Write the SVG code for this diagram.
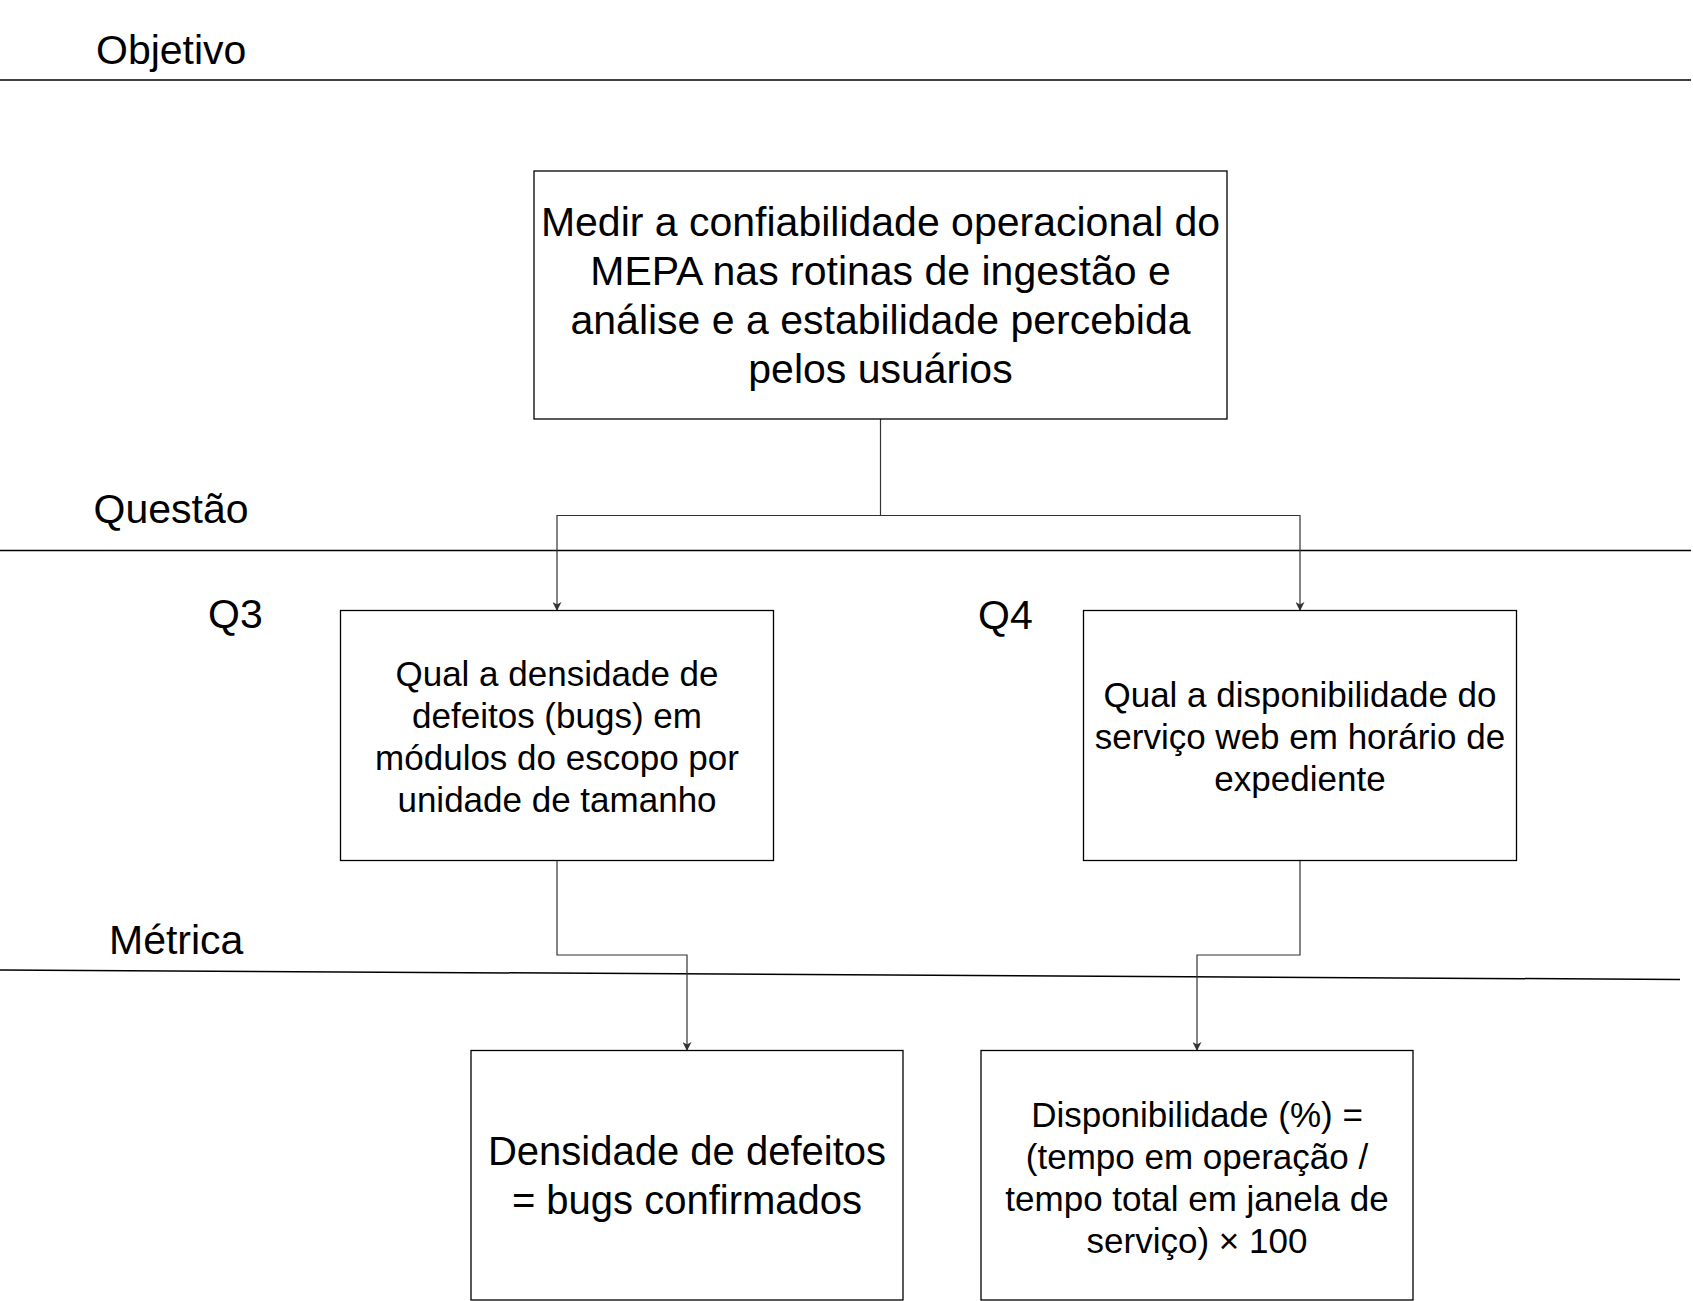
<svg xmlns="http://www.w3.org/2000/svg" width="1693" height="1301" viewBox="0 0 1693 1301">
<style>
  text { font-family: "Liberation Sans", Arial, Helvetica, sans-serif; fill: #000; }
  .lbl { font-size: 41px; }
  .big { font-size: 41px; text-anchor: middle; }
  .big2 { font-size: 40px; text-anchor: middle; }
  .med { font-size: 35px; text-anchor: middle; }
  .box { fill: #fff; stroke: #000; stroke-width: 1.3; }
  .div { stroke: #000; stroke-width: 1.5; fill: none; }
  .conn { stroke: #333; stroke-width: 1.2; fill: none; marker-end: url(#arr); }
</style>
<defs>
  <marker id="arr" viewBox="0 0 10 10" refX="9" refY="5" markerWidth="9" markerHeight="9" markerUnits="userSpaceOnUse" orient="auto">
    <path d="M0,0 L10,5 L0,10 L3,5 z" fill="#333"/>
  </marker>
</defs>
<rect width="1693" height="1301" fill="#fff"/>

<g id="dividers">
  <line class="div" x1="0" y1="80" x2="1691" y2="80"/>
  <line class="div" x1="0" y1="550.5" x2="1691" y2="550.5"/>
  <line class="div" x1="0" y1="970" x2="1680" y2="979.5"/>
</g>

<g id="labels">
  <text class="lbl" x="96" y="64">Objetivo</text>
  <text class="lbl" x="93.5" y="523">Questão</text>
  <text class="lbl" x="208" y="628">Q3</text>
  <text class="lbl" x="978" y="629">Q4</text>
  <text class="lbl" x="109" y="954">Métrica</text>
</g>

<g id="connectors">
  <polyline class="conn" points="880.5,419 880.5,515.5 557,515.5 557,610"/>
  <polyline class="conn" points="880.5,515.5 1300,515.5 1300,610"/>
  <polyline class="conn" points="557,860 557,955 687,955 687,1050"/>
  <polyline class="conn" points="1300,860 1300,955 1197,955 1197,1050"/>
</g>

<g id="goal">
  <rect class="box" x="534" y="171" width="693" height="248"/>
  <text class="big" x="880.5" y="236">Medir a confiabilidade operacional do</text>
  <text class="big" x="880.5" y="285">MEPA nas rotinas de ingestão e</text>
  <text class="big" x="880.5" y="334">análise e a estabilidade percebida</text>
  <text class="big" x="880.5" y="383">pelos usuários</text>
</g>

<g id="q3">
  <rect class="box" x="340.5" y="610.5" width="433" height="250"/>
  <text class="med" x="557" y="686">Qual a densidade de</text>
  <text class="med" x="557" y="728">defeitos (bugs) em</text>
  <text class="med" x="557" y="770">módulos do escopo por</text>
  <text class="med" x="557" y="811.5">unidade de tamanho</text>
</g>

<g id="q4">
  <rect class="box" x="1083.5" y="610.5" width="433" height="250"/>
  <text class="med" x="1300" y="707">Qual a disponibilidade do</text>
  <text class="med" x="1300" y="749">serviço web em horário de</text>
  <text class="med" x="1300" y="791">expediente</text>
</g>

<g id="m3">
  <rect class="box" x="471" y="1050.5" width="432" height="249.5"/>
  <text class="big2" x="687" y="1165">Densidade de defeitos</text>
  <text class="big2" x="687" y="1213.5">= bugs confirmados</text>
</g>

<g id="m4">
  <rect class="box" x="981" y="1050.5" width="432" height="249.5"/>
  <text class="med" x="1197" y="1126.5">Disponibilidade (%) =</text>
  <text class="med" x="1197" y="1168.5">(tempo em operação /</text>
  <text class="med" x="1197" y="1211">tempo total em janela de</text>
  <text class="med" x="1197" y="1253">serviço) × 100</text>
</g>
</svg>
